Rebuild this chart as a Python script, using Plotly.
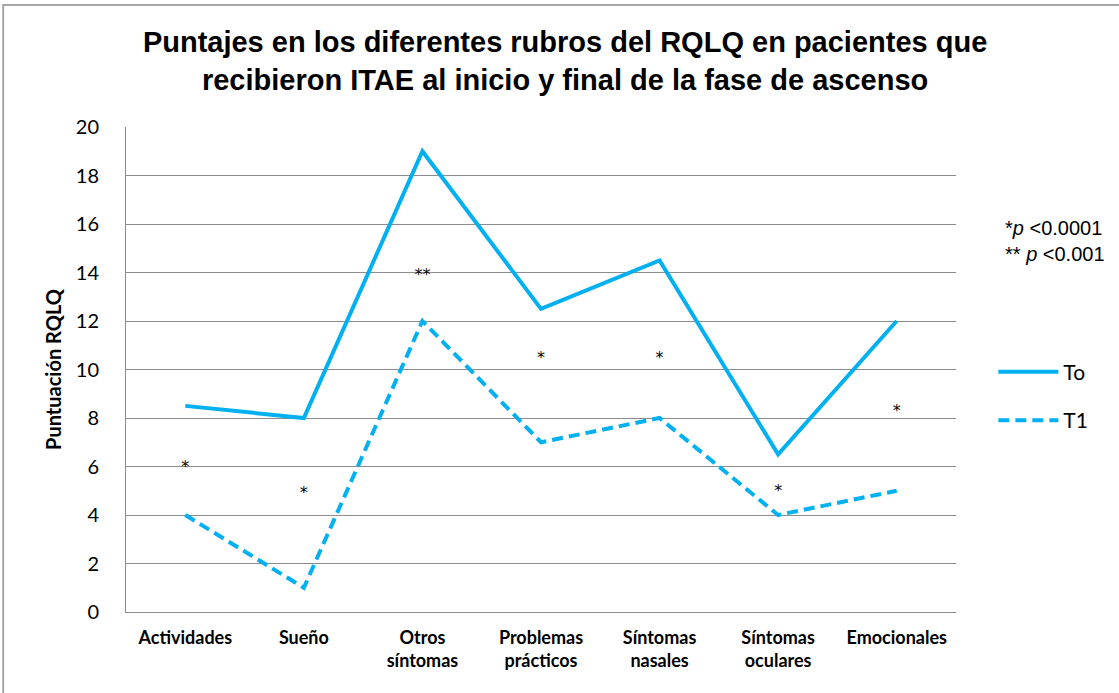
import plotly.graph_objects as go

categories = ["Actividades", "Sueño", "Otros<br>síntomas", "Problemas<br>prácticos",
              "Síntomas<br>nasales", "Síntomas<br>oculares", "Emocionales"]
to_values = [8.5, 8, 19, 12.5, 14.5, 6.5, 12]
t1_values = [4, 1, 12, 7, 8, 4, 5]
sig_labels = ["*", "*", "**", "*", "*", "*", "*"]
sig_y = [5.95, 4.85, 13.85, 10.45, 10.45, 4.95, 8.25]
y_ticks = [0, 2, 4, 6, 8, 10, 12, 14, 16, 18, 20]

blue = "#00B0F0"
grid = "#8C8C8C"

fig = go.Figure()
fig.add_trace(go.Scatter(x=categories, y=to_values, mode="lines", name="To",
                         legendgroup="a",
                         line=dict(color=blue, width=4)))
fig.add_trace(go.Scatter(x=categories, y=t1_values, mode="lines", name="T1",
                         legendgroup="b",
                         line=dict(color=blue, width=4, dash="11px,6px")))
fig.add_trace(go.Scatter(x=categories, y=sig_y, mode="text", text=sig_labels,
                         textfont=dict(family="DejaVu Sans", size=16, color="black"),
                         showlegend=False, hoverinfo="skip"))

fig.update_layout(
    width=1119, height=693,
    margin=dict(l=126, r=163, t=127, b=81),
    paper_bgcolor="white", plot_bgcolor="white",
    title=dict(text="<b>Puntajes en los diferentes rubros del RQLQ en pacientes que<br>recibieron ITAE al inicio y final de la fase de ascenso</b>",
               x=0.505, xanchor="center", yref="container", y=1 - 52 / 693, yanchor="top",
               font=dict(family="Liberation Sans", size=29, color="black")),
    font=dict(family="Lato", color="black"),
    xaxis=dict(type="category", range=[-0.5, 6.5], showgrid=False,
               showline=True, linecolor=grid, linewidth=1, ticks="",
               ticklabelstandoff=9,
               tickfont=dict(family="Lato", size=18, weight="bold", color="black")),
    yaxis=dict(range=[0, 20], tickvals=y_ticks, showgrid=True, gridcolor=grid,
               gridwidth=1, showline=True, linecolor=grid, linewidth=1,
               zeroline=False, ticks="", ticklen=0, ticklabelstandoff=22,
               tickfont=dict(family="Lato", size=20, color="black"),
               title=dict(text="<b>Puntuación RQLQ</b>", standoff=8,
                          font=dict(family="Lato", size=20, color="black"))),
    legend=dict(x=1.045, y=0.445, xanchor="left", yanchor="middle",
                font=dict(family="Lato", size=21, color="black"),
                traceorder="grouped", tracegroupgap=18, itemwidth=60),
    showlegend=True,
)

fig.add_annotation(xref="paper", yref="paper", x=1.057, y=0.765, xanchor="left",
                   yanchor="middle", showarrow=False, align="left",
                   text="*<i>p</i> &lt;0.0001<br>** <i>p</i> &lt;0.001",
                   font=dict(family="Liberation Sans", size=20, color="black"))

fig.add_shape(type="rect", xref="paper", yref="paper", x0=-0.148, x1=1.25,
              y0=-0.25, y1=1.2515, line=dict(color="#A6A6A6", width=2))

fig.write_html("out.html", config={"displayModeBar": False},
               post_script="document.body.style.margin='0';")
